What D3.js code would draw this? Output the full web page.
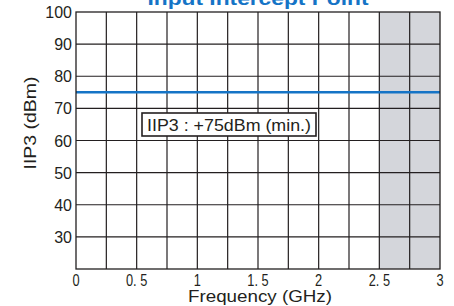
<!DOCTYPE html>
<meta charset="utf-8">
<head>
<style>
body { margin: 0; background: #fff; }
svg text { font-family: "Liberation Sans", Arial, sans-serif; fill: #231f20; }
.grid line { stroke: #231f20; stroke-width: 1.2; }
</style>
<script src="https://cdn.jsdelivr.net/npm/d3@7"></script>
</head>
<body>
<script>
// chart data
var title = "Input Intercept Point";
var xTicks = [0, 0.5, 1, 1.5, 2, 2.5, 3];
var xTickLabels = ["0", "0. 5", "1", "1. 5", "2", "2. 5", "3"];
var xGrid = [0.25, 0.5, 0.75, 1, 1.25, 1.5, 1.75, 2, 2.25, 2.5, 2.75];
var yTicks = [30, 40, 50, 60, 70, 80, 90, 100];
var shadeBand = [2.5, 3];
var iip3Freq = [0, 3];
var iip3Vals = [75, 75];
var note = "IIP3 : +75dBm (min.)";

var W = 454, H = 306;
var margin = { top: 12, right: 14, bottom: 37, left: 76 };
var width = W - margin.left - margin.right,
    height = H - margin.top - margin.bottom;

var svg = d3.select("body").append("svg")
    .attr("width", W).attr("height", H);

var g = svg.append("g")
    .attr("transform", "translate(" + margin.left + "," + margin.top + ")");

var x = d3.scaleLinear().domain([0, 3]).range([0, width]);
var y = d3.scaleLinear().domain([20, 100]).range([height, 0]);

// shaded band
g.append("rect")
    .attr("x", x(shadeBand[0])).attr("y", 0)
    .attr("width", x(shadeBand[1]) - x(shadeBand[0]))
    .attr("height", height)
    .attr("fill", "#d4d6db");

// grid
var grid = g.append("g").attr("class", "grid");
grid.selectAll(".vx").data(xGrid).enter().append("line")
    .attr("x1", d => x(d)).attr("x2", d => x(d))
    .attr("y1", 0).attr("y2", height);
grid.selectAll(".hy").data(yTicks.slice(0, -1)).enter().append("line")
    .attr("x1", 0).attr("x2", width)
    .attr("y1", d => y(d)).attr("y2", d => y(d));

// series line
var line = d3.line().x((d, i) => x(iip3Freq[i])).y(d => y(d));
g.append("path")
    .datum(iip3Vals)
    .attr("d", line)
    .attr("fill", "none")
    .attr("stroke", "#1574c6")
    .attr("stroke-width", 2.6);

// frame
g.append("rect")
    .attr("width", width).attr("height", height)
    .attr("fill", "none").attr("stroke", "#231f20").attr("stroke-width", 1.3);

// annotation box
var bx = 66, by = 101, bw = 174, bh = 23;
g.append("rect")
    .attr("x", bx).attr("y", by).attr("width", bw).attr("height", bh)
    .attr("fill", "#fff").attr("stroke", "#231f20").attr("stroke-width", 1.6);
g.append("text")
    .attr("x", bx + bw / 2).attr("y", by + bh / 2 + 6)
    .attr("text-anchor", "middle")
    .style("font-size", "17px")
    .attr("textLength", 164).attr("lengthAdjust", "spacingAndGlyphs")
    .text(note);

// y tick labels
g.selectAll(".ylab").data(yTicks).enter().append("text")
    .attr("x", -4).attr("y", d => y(d) + 6)
    .attr("text-anchor", "end")
    .style("font-size", "16px")
    .text(d => d);

// x tick labels
g.selectAll(".xlab").data(xTicks).enter().append("text")
    .attr("x", (d, i) => x(d)).attr("y", height + 17)
    .attr("text-anchor", "middle")
    .style("font-size", "16px")
    .attr("transform", (d, i) => "translate(" + x(d) + ",0) scale(0.8,1) translate(" + (-x(d)) + ",0)")
    .text((d, i) => xTickLabels[i]);

// axis titles
svg.append("text")
    .attr("x", 260).attr("y", 302)
    .attr("text-anchor", "middle")
    .style("font-size", "16px")
    .attr("textLength", 144).attr("lengthAdjust", "spacingAndGlyphs")
    .text("Frequency (GHz)");

svg.append("text")
    .attr("transform", "translate(36,123) rotate(-90)")
    .attr("text-anchor", "middle")
    .style("font-size", "17px")
    .attr("textLength", 93).attr("lengthAdjust", "spacingAndGlyphs")
    .text("IIP3 (dBm)");

// chart title, cut at the top edge
svg.append("text")
    .attr("x", 258).attr("y", 4.5)
    .attr("text-anchor", "middle")
    .style("font-size", "18px").style("font-weight", "bold")
    .style("fill", "#1574c6")
    .attr("textLength", 221).attr("lengthAdjust", "spacingAndGlyphs")
    .text(title);
</script>
</body>
